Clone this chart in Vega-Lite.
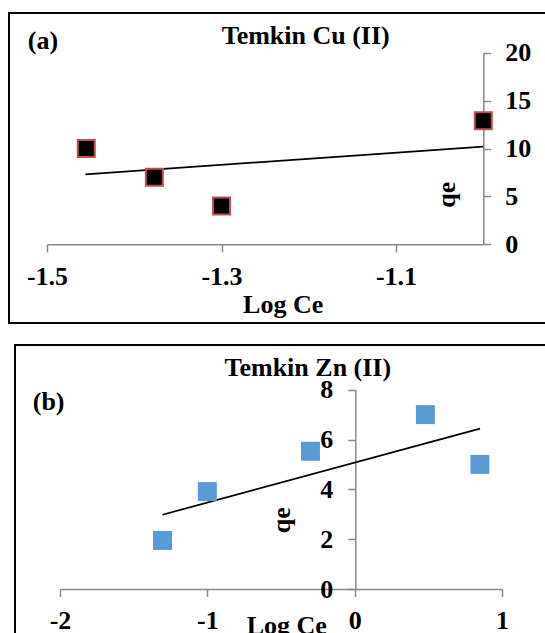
{
  "$schema": "https://vega.github.io/schema/vega-lite/v6.json",
  "padding": {"left": 8, "top": 12, "right": 0, "bottom": 0},
  "spacing": 20,
  "center": true,
  "config": {
    "view": {"stroke": "#000000", "strokeWidth": 2, "fill": "#ffffff"},
    "font": "Liberation Serif",
    "text": {"font": "Liberation Serif", "fontSize": 26, "fontWeight": "bold", "color": "#000000", "baseline": "alphabetic"},
    "axis": {
      "grid": false,
      "domainColor": "#898989",
      "tickColor": "#898989",
      "domainWidth": 1.5,
      "tickWidth": 1.5,
      "tickSize": 7.5,
      "labelFont": "Liberation Serif",
      "labelFontSize": 26,
      "labelFontWeight": "bold",
      "labelColor": "#000000",
      "titleFont": "Liberation Serif",
      "titleFontSize": 26,
      "titleFontWeight": "bold",
      "titleColor": "#000000",
      "labelOverlap": false,
      "labelFlush": false,
      "labelBound": false
    }
  },
  "datasets": {
    "cu": [
      {"logCe": -1.455, "qe": 10},
      {"logCe": -1.377, "qe": 7},
      {"logCe": -1.3, "qe": 4},
      {"logCe": -1.0, "qe": 12.9}
    ],
    "cuFit": [
      {"logCe": -1.456, "qe": 7.3},
      {"logCe": -1.0, "qe": 10.2}
    ],
    "zn": [
      {"logCe": -1.304, "qe": 1.95},
      {"logCe": -1.0, "qe": 3.91},
      {"logCe": -0.3, "qe": 5.53},
      {"logCe": 0.48, "qe": 7.0},
      {"logCe": 0.85, "qe": 5.0}
    ],
    "znFit": [
      {"logCe": -1.305, "qe": 2.98},
      {"logCe": 0.851, "qe": 6.44}
    ],
    "labelsA": [{"title": "Temkin Cu (II)", "panel": "(a)"}],
    "labelsB": [{"title": "Temkin Zn (II)", "panel": "(b)"}]
  },
  "vconcat": [
    {
      "width": 552,
      "height": 310,
      "layer": [
        {
          "data": {"name": "cuFit"},
          "mark": {"type": "line", "color": "#000000", "strokeWidth": 1.75},
          "encoding": {
            "x": {
              "field": "logCe",
              "type": "quantitative",
              "scale": {"domain": [-1.5, -1.0], "range": [38, 474.3], "zero": false, "nice": false},
              "axis": {
                "orient": "bottom",
                "offset": -78.7,
                "values": [-1.5, -1.3, -1.1],
                "labelExpr": "toString(datum.value)",
                "labelFont": "Liberation Serif",
                "labelPadding": 12,
                "title": "Log Ce",
                "titleX": 273.7,
                "titleY": 68.4,
                "titleAlign": "center",
                "titleBaseline": "alphabetic"
              }
            },
            "y": {
              "field": "qe",
              "type": "quantitative",
              "scale": {"domain": [0, 20], "range": [231.3, 39.7], "zero": false, "nice": false},
              "axis": {
                "orient": "right",
                "offset": -77.7,
                "values": [0, 5, 10, 15, 20],
                "labelFont": "Liberation Serif",
                "labelPadding": 14,
                "labelAlign": "left",
                "labelBaseline": "middle",
                "title": "qe",
                "titleAngle": -90,
                "titleX": -29,
                "titleY": 181.3,
                "titleAlign": "center",
                "titleBaseline": "alphabetic"
              }
            }
          }
        },
        {
          "data": {"name": "cu"},
          "mark": {"type": "point", "shape": "square", "filled": true, "size": 289, "fill": "#000000", "stroke": "#C0504D", "strokeWidth": 2, "opacity": 1},
          "encoding": {
            "x": {"field": "logCe", "type": "quantitative"},
            "y": {"field": "qe", "type": "quantitative"}
          }
        },
        {
          "data": {"name": "labelsA"},
          "mark": {"type": "text", "align": "center", "baseline": "alphabetic", "clip": false},
          "encoding": {
            "x": {"datum": -1.2035, "type": "quantitative"},
            "y": {"datum": 20.94, "type": "quantitative"},
            "text": {"field": "title", "type": "nominal"}
          }
        },
        {
          "data": {"name": "labelsA"},
          "mark": {"type": "text", "align": "left", "baseline": "alphabetic", "clip": false},
          "encoding": {
            "x": {"datum": -1.522, "type": "quantitative"},
            "y": {"datum": 20.35, "type": "quantitative"},
            "text": {"field": "panel", "type": "nominal"}
          }
        }
      ]
    },
    {
      "width": 540,
      "height": 310,
      "layer": [
        {
          "data": {"name": "znFit"},
          "mark": {"type": "line", "color": "#000000", "strokeWidth": 1.75},
          "encoding": {
            "x": {
              "field": "logCe",
              "type": "quantitative",
              "scale": {"domain": [-2, 1], "range": [45, 487], "zero": false, "nice": false},
              "axis": {
                "orient": "bottom",
                "offset": -66,
                "values": [-2, -1, 0, 1],
                "labelExpr": "toString(datum.value)",
                "labelFont": "Liberation Serif",
                "labelPadding": 11,
                "title": "Log Ce",
                "titleX": 271.3,
                "titleY": 44,
                "titleAlign": "center",
                "titleBaseline": "alphabetic"
              }
            },
            "y": {
              "field": "qe",
              "type": "quantitative",
              "scale": {"domain": [0, 8], "range": [244, 44.7], "zero": false, "nice": false},
              "axis": {
                "orient": "left",
                "offset": -340.3,
                "values": [0, 2, 4, 6, 8],
                "labelFont": "Liberation Serif",
                "labelPadding": 15,
                "labelAlign": "right",
                "labelBaseline": "middle",
                "title": "qe",
                "titleAngle": -90,
                "titleX": -66.3,
                "titleY": 174.7,
                "titleAlign": "center",
                "titleBaseline": "alphabetic"
              }
            }
          }
        },
        {
          "data": {"name": "zn"},
          "mark": {"type": "point", "shape": "square", "filled": true, "size": 361, "fill": "#5B9BD5", "strokeWidth": 0, "opacity": 1},
          "encoding": {
            "x": {"field": "logCe", "type": "quantitative"},
            "y": {"field": "qe", "type": "quantitative"}
          }
        },
        {
          "data": {"name": "labelsB"},
          "mark": {"type": "text", "align": "center", "baseline": "alphabetic", "clip": false},
          "encoding": {
            "x": {"datum": -0.318, "type": "quantitative"},
            "y": {"datum": 8.54, "type": "quantitative"},
            "text": {"field": "title", "type": "nominal"}
          }
        },
        {
          "data": {"name": "labelsB"},
          "mark": {"type": "text", "align": "left", "baseline": "alphabetic", "clip": false},
          "encoding": {
            "x": {"datum": -2.185, "type": "quantitative"},
            "y": {"datum": 7.17, "type": "quantitative"},
            "text": {"field": "panel", "type": "nominal"}
          }
        }
      ]
    }
  ]
}
